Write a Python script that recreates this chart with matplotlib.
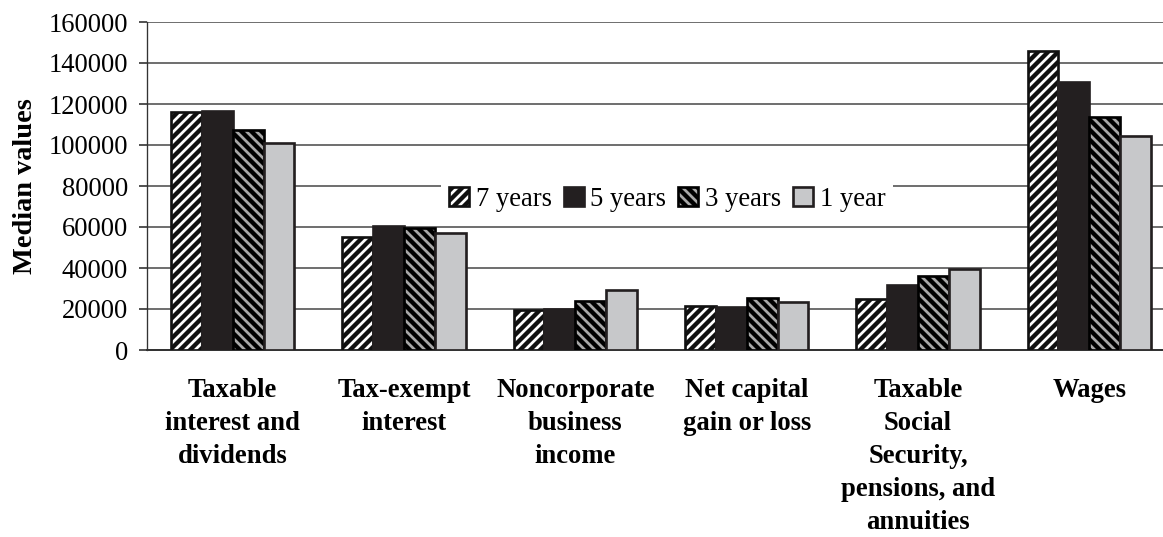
#!/usr/bin/env python3
"""Median values by income source and holding period"""

import numpy as np
import matplotlib
matplotlib.use("Agg")
import matplotlib.pyplot as plt

# categories on the x axis
categories = [
    "Taxable\ninterest and\ndividends",
    "Tax-exempt\ninterest",
    "Noncorporate\nbusiness\nincome",
    "Net capital\ngain or loss",
    "Taxable\nSocial\nSecurity,\npensions, and\nannuities",
    "Wages",
]

# series values
series_names = ["7 years", "5 years", "3 years", "1 year"]
seven_years = [116000, 55000, 19500, 21300, 25000, 146000]
five_years = [116500, 60300, 20000, 21200, 31700, 130600]
three_years = [107500, 59500, 23900, 25500, 36200, 113800]
one_year = [101200, 57200, 29400, 23500, 39700, 104400]

yticks = [0, 20000, 40000, 60000, 80000, 100000, 120000, 140000, 160000]


def main() -> None:
    plt.rcParams["font.family"] = ["Liberation Serif", "DejaVu Serif"]
    plt.rcParams["hatch.linewidth"] = 2.6

    fig = plt.figure(figsize=(1163 / 120, 537 / 120), dpi=120)
    ax = fig.add_axes([147 / 1163, 1 - 350 / 537, 1 - 147 / 1163, (350 - 22) / 537])

    x = np.arange(len(categories))
    width = 0.18
    values = [seven_years, five_years, three_years, one_year]
    styles = [
        dict(facecolor="white", edgecolor="#111111", hatch="////"),
        dict(facecolor="#231f20", edgecolor="#231f20", hatch=None),
        dict(facecolor="#a8a8a8", edgecolor="#000000", hatch="\\\\\\\\"),
        dict(facecolor="#c7c8ca", edgecolor="#231f20", hatch=None),
    ]

    for i, (vals, name, st) in enumerate(zip(values, series_names, styles)):
        offs = (i - 1.5) * width
        ax.bar(x + offs, vals, width, label=name, linewidth=1.6, zorder=3, **st)

    ax.set_xlim(-0.5, 5.43)
    ax.set_ylim(0, 160000)
    ax.set_yticks(yticks)
    ax.set_yticklabels([str(v) for v in yticks], fontsize=16)
    ax.yaxis.grid(True, color="#555555", linewidth=1.0, zorder=0)
    ax.set_axisbelow(True)

    ax.set_xticks(x)
    ax.set_xticklabels(categories, fontsize=16, fontweight="bold", linespacing=1.42,
                       va="top")
    ax.tick_params(axis="x", length=0, pad=17)
    ax.tick_params(axis="y", length=5, width=1, color="#333333", pad=6.5)

    for side in ["top", "right"]:
        ax.spines[side].set_visible(False)
    ax.spines["left"].set_color("#333333")
    ax.spines["bottom"].set_color("#333333")
    ax.spines["bottom"].set_linewidth(1.2)

    ax.set_ylabel("Median values", fontsize=17, fontweight="bold", labelpad=6)

    leg = ax.legend(loc="center", bbox_to_anchor=(0.512, 0.46), ncol=4, fontsize=16,
                    frameon=True, fancybox=False, handlelength=0.75, handleheight=0.75,
                    handletextpad=0.25, columnspacing=0.45, borderpad=0.3,
                    borderaxespad=0)
    leg.get_frame().set_edgecolor("none")
    leg.get_frame().set_facecolor("white")
    leg.get_frame().set_alpha(1.0)
    leg.set_zorder(5)

    fig.savefig("out.png", dpi=120)


if __name__ == "__main__":
    main()
